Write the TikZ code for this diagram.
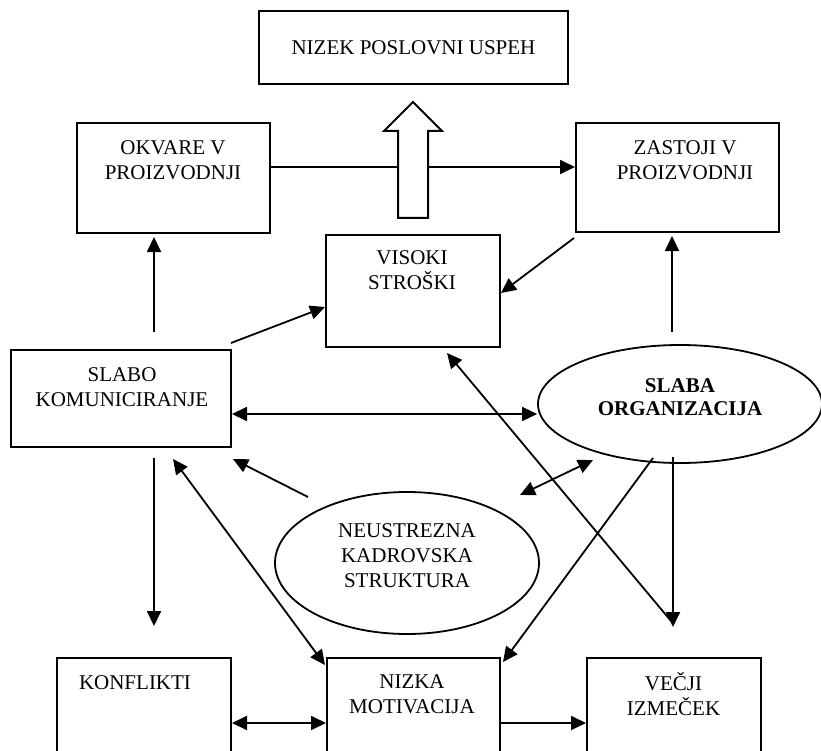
\documentclass[tikz,border=0pt]{standalone}
\usepackage{fontspec}
\setmainfont{Liberation Serif}
\usetikzlibrary{arrows.meta,shapes.geometric}

\begin{document}
\begin{tikzpicture}[
    x=1pt, y=-1pt,
    font=\fontsize{21}{25}\selectfont,
    >={Triangle[length=15pt,width=14pt]},
    box/.style={draw, line width=2pt, inner sep=0pt},
    oval/.style={draw, ellipse, line width=1.8pt, inner sep=0pt, align=center},
    txt/.style={align=center, inner sep=0pt},
    pfeil/.style={line width=1.8pt}
  ]
  \useasboundingbox (0,0) rectangle (821,751);
  \clip (0,0) rectangle (821,751);

  % Kaestchen
  \node[box, minimum width=309pt, minimum height=73pt] (nizek) at (413.5,47.5) {NIZEK POSLOVNI USPEH};
  \node[box, minimum width=193pt, minimum height=110pt] (okvare) at (173.5,178) {};
  \node[txt] (okvaretx) at (173,160) {OKVARE V\\PROIZVODNJI};
  \node[box, minimum width=203pt, minimum height=109pt] (zastoji) at (677.5,177.5) {};
  \node[txt] (zastojitx) at (685,160) {ZASTOJI V\\PROIZVODNJI};
  \node[box, minimum width=174pt, minimum height=112pt] (visoki) at (413,291) {};
  \node[txt] (visokitx) at (412,270) {VISOKI\\STROŠKI};
  \node[box, minimum width=220pt, minimum height=97pt] (slabokom) at (121,398.5) {};
  \node[txt] (slabokomtx) at (122,387) {SLABO\\KOMUNICIRANJE};
  \node[oval, minimum width=284pt, minimum height=118pt] (slabaorg) at (680,404) {};
  \node[txt, font=\fontsize{21}{23}\selectfont\bfseries] (slabaorgtx) at (680,397) {SLABA\\ORGANIZACIJA};
  \node[oval, minimum width=264pt, minimum height=142pt] (neustrezna) at (407,563) {};
  \node[txt] (neustreznatx) at (407,556) {NEUSTREZNA\\KADROVSKA\\STRUKTURA};
  \node[box, minimum width=174pt, minimum height=112pt] (konflikti) at (144,714) {};
  \node[txt] (konfliktitx) at (135,683) {KONFLIKTI};
  \node[box, minimum width=173pt, minimum height=112pt] (nizka) at (413.5,714) {};
  \node[txt] (nizkatx) at (412,694) {NIZKA\\MOTIVACIJA};
  \node[box, minimum width=174pt, minimum height=112pt] (vecji) at (674,714) {};
  \node[txt] (vecjitx) at (673.5,694) {VEČJI\\IZMEČEK};

  % Pfeile
  \draw[pfeil, ->] ([yshift=11pt]okvare.east) -- ([yshift=10.5pt]zastoji.west);
  \draw[pfeil, ->] ([xshift=33pt,yshift=17pt]slabokom.north) -- ([xshift=-19.5pt,yshift=-3pt]okvare.south);
  \draw[pfeil, ->] ([xshift=-8pt,yshift=12pt]slabaorg.north) -- ([xshift=-5.5pt,yshift=-3pt]zastoji.south);
  \draw[pfeil, ->] ([xshift=-1pt,yshift=6pt]slabokom.north east) -- ([yshift=-16pt]visoki.west);
  \draw[pfeil, ->] ([xshift=-1pt,yshift=-5pt]zastoji.south west) -- ([yshift=-2pt]visoki.east);
  \draw[pfeil, <->] ([yshift=-15.5pt]slabokom.east) -- ([yshift=-10pt]slabaorg.west);
  \draw[pfeil, <->] ([xshift=113pt,yshift=68pt]neustrezna.center) -- ([xshift=-87pt,yshift=-56pt]slabaorg.center);
  \draw[pfeil, ->] ([xshift=-99pt,yshift=66pt]neustrezna.center) -- ([xshift=1pt,yshift=-11pt]slabokom.south east);
  \draw[pfeil, <->] ([xshift=52pt,yshift=-11pt]slabokom.south) -- ([xshift=-1pt,yshift=-8pt]nizka.north west);
  \draw[pfeil, ->] ([xshift=-27pt,yshift=-54pt]slabaorg.center) -- ([xshift=2pt,yshift=-5pt]nizka.north east);
  \draw[pfeil, ->] ([xshift=-7pt,yshift=-53pt]slabaorg.center) -- ([xshift=-1pt,yshift=30pt]vecji.north);
  \draw[pfeil, <-] ([xshift=34pt,yshift=-5pt]visoki.south) -- ([xshift=-3pt,yshift=36pt]vecji.north);
  \draw[pfeil, ->] ([xshift=33pt,yshift=-10pt]slabokom.south) -- ([xshift=10pt,yshift=31pt]konflikti.north);
  \draw[pfeil, <->] ([yshift=-9pt]konflikti.east) -- ([yshift=-9pt]nizka.west);
  \draw[pfeil, ->] ([yshift=-9pt]nizka.east) -- ([yshift=-9pt]vecji.west);

  % Blockpfeil nach oben
  \draw[line width=2pt, fill=white] (398,218) -- (398,131) -- (384,131) -- (413,102)
    -- (442,131) -- (428,131) -- (428,218) -- cycle;
\end{tikzpicture}
\end{document}
